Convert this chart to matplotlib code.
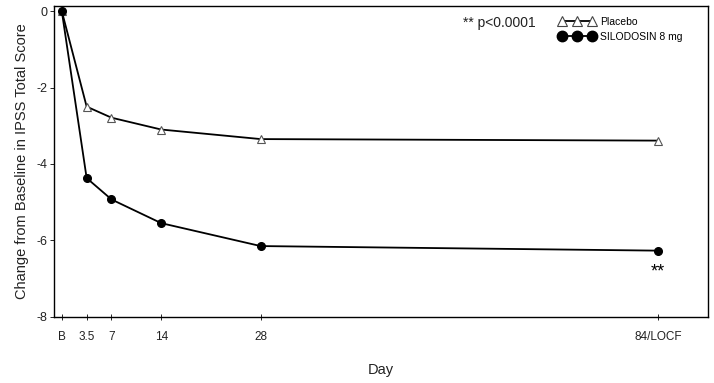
import matplotlib.pyplot as plt
from matplotlib.lines import Line2D

plt.rcParams['font.family'] = ['Liberation Sans', 'DejaVu Sans']

# Data
days = [0, 3.5, 7, 14, 28, 84]
tick_labels = ['B', '3.5', '7', '14', '28', '84/LOCF']
placebo = [0, -2.5, -2.79, -3.1, -3.35, -3.39]
silodosin = [0, -4.37, -4.93, -5.55, -6.15, -6.27]

fig = plt.figure(figsize=(7.14, 3.83), dpi=100)
ax = fig.add_axes([0.0756, 0.173, 0.916, 0.811])

ax.plot(days, placebo, color='black', lw=1.3, marker='^', ms=6,
        mfc='white', mec='#555555', mew=0.8)
ax.plot(days, silodosin, color='black', lw=1.3, marker='o', ms=5.5,
        mfc='black', mec='black')

ax.set_xlim(-1.1, 91)
ax.set_ylim(-8, 0.13)
ax.set_xticks(days)
ax.set_xticklabels(tick_labels, fontsize=8.5, color='#222222')
ax.set_yticks([0, -2, -4, -6, -8])
ax.set_yticklabels(['0', '-2', '-4', '-6', '-8'], fontsize=9, color='#222222')
ax.tick_params(axis='x', direction='inout', length=4, width=0.6, pad=8)
ax.tick_params(axis='y', direction='out', length=3, width=0.6, pad=2)
for s in ax.spines.values():
    s.set_linewidth(1.0)

ax.set_ylabel('Change from Baseline in IPSS Total Score', fontsize=10.5, color='#222222', labelpad=5)
ax.set_xlabel('Day', fontsize=10.5, color='#222222', labelpad=15)

ax.text(84, -6.83, '**', fontsize=13, ha='center', va='center')

fig.text(0.648, 0.94, '** p<0.0001', fontsize=10, ha='left', va='center', color='#222222')

# legend handles with bigger markers than the data
h_plac = Line2D([], [], color='black', lw=1.3, marker='^', ms=6.5,
                mfc='white', mec='#444444', mew=0.8)
h_silo = Line2D([], [], color='black', lw=1.3, marker='o', ms=7.5,
                mfc='black', mec='black')
ax.legend([h_plac, h_silo], ['Placebo', 'SILODOSIN 8 mg'], loc='upper left',
          bbox_to_anchor=(0.762, 0.985), numpoints=3, handlelength=3.5,
          handletextpad=0.45, labelspacing=0.45, frameon=False, fontsize=7.5,
          borderaxespad=0.2)

fig.savefig('out.png', dpi=100)
